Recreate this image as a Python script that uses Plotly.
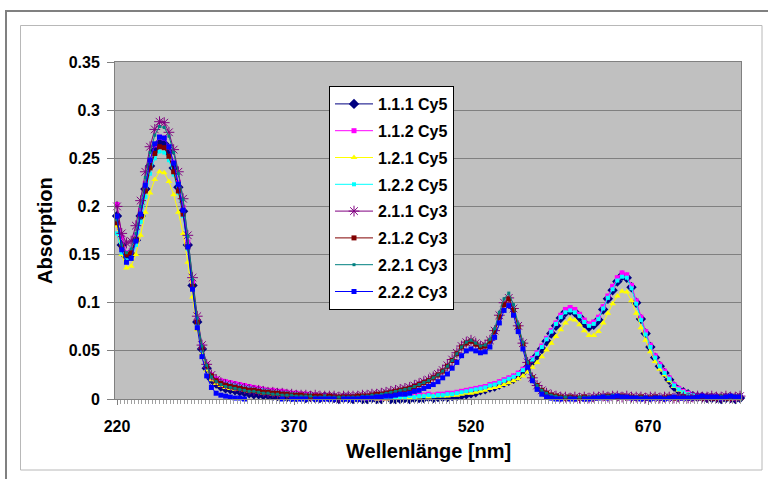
import plotly.graph_objects as go

# Wavelength grid [nm], 4 nm steps
wavelength = list(range(220, 749, 4))

names = ["1.1.1 Cy5", "1.1.2 Cy5", "1.2.1 Cy5", "1.2.2 Cy5",
         "2.1.1 Cy3", "2.1.2 Cy3", "2.2.1 Cy3", "2.2.2 Cy3"]

s111_cy5 = [
    0.190, 0.160, 0.148, 0.150, 0.165, 0.190, 0.218, 0.242, 0.258, 0.266,
    0.265, 0.256, 0.240, 0.220, 0.195, 0.160, 0.118, 0.080, 0.052, 0.032,
    0.021, 0.016, 0.013, 0.011, 0.010, 0.009, 0.008, 0.007, 0.006, 0.005,
    0.005, 0.004, 0.004, 0.003, 0.003, 0.003, 0.002, 0.002, 0.002, 0.002,
    0.001, 0.002, 0.001, 0.001, 0.002, 0.001, 0.001, 0.000, 0.001, 0.001,
    0.000, 0.001, 0.000, 0.000, 0.001, 0.000, 0.000, -0.001, 0.000, 0.000,
    0.000, 0.001, 0.000, 0.001, 0.001, 0.001, 0.002, 0.001, 0.002, 0.002,
    0.002, 0.003, 0.003, 0.004, 0.005, 0.006, 0.007, 0.009, 0.010, 0.012,
    0.013, 0.015, 0.017, 0.019, 0.021, 0.024, 0.028, 0.033, 0.039, 0.045,
    0.052, 0.060, 0.068, 0.076, 0.084, 0.090, 0.092, 0.090, 0.085, 0.079,
    0.075, 0.077, 0.082, 0.093, 0.104, 0.113, 0.122, 0.128, 0.126, 0.116,
    0.100, 0.083, 0.068, 0.054, 0.043, 0.034, 0.027, 0.020, 0.013, 0.009,
    0.007, 0.005, 0.003, 0.002, 0.002, 0.001, 0.001, 0.001, 0.000, 0.001,
    0.001, 0.000, 0.001,
]

s112_cy5 = [
    0.202, 0.168, 0.152, 0.154, 0.170, 0.196, 0.224, 0.248, 0.264, 0.272,
    0.271, 0.262, 0.246, 0.225, 0.199, 0.163, 0.121, 0.083, 0.055, 0.036,
    0.025, 0.021, 0.019, 0.018, 0.017, 0.016, 0.015, 0.014, 0.013, 0.012,
    0.011, 0.010, 0.009, 0.009, 0.008, 0.008, 0.007, 0.006, 0.006, 0.005,
    0.005, 0.004, 0.004, 0.003, 0.003, 0.003, 0.002, 0.002, 0.002, 0.002,
    0.001, 0.002, 0.001, 0.001, 0.002, 0.001, 0.001, 0.001, 0.002, 0.002,
    0.002, 0.003, 0.003, 0.003, 0.004, 0.004, 0.005, 0.004, 0.005, 0.005,
    0.006, 0.006, 0.007, 0.008, 0.009, 0.010, 0.011, 0.012, 0.013, 0.015,
    0.016, 0.018, 0.020, 0.022, 0.024, 0.027, 0.031, 0.036, 0.042, 0.048,
    0.055, 0.063, 0.071, 0.079, 0.087, 0.093, 0.095, 0.093, 0.088, 0.082,
    0.078, 0.080, 0.085, 0.096, 0.107, 0.117, 0.126, 0.131, 0.129, 0.118,
    0.102, 0.085, 0.070, 0.056, 0.045, 0.036, 0.029, 0.022, 0.015, 0.011,
    0.008, 0.006, 0.004, 0.003, 0.003, 0.002, 0.002, 0.002, 0.001, 0.002,
    0.001, 0.001, 0.002,
]

s121_cy5 = [
    0.180, 0.150, 0.136, 0.138, 0.150, 0.170, 0.194, 0.214, 0.228, 0.236,
    0.235, 0.226, 0.212, 0.194, 0.172, 0.142, 0.106, 0.072, 0.047, 0.030,
    0.020, 0.016, 0.014, 0.012, 0.011, 0.010, 0.010, 0.009, 0.008, 0.008,
    0.007, 0.006, 0.006, 0.005, 0.005, 0.004, 0.004, 0.003, 0.003, 0.003,
    0.002, 0.002, 0.002, 0.002, 0.001, 0.002, 0.001, 0.001, 0.001, 0.001,
    0.001, 0.001, 0.000, 0.001, 0.001, 0.000, 0.001, 0.000, 0.001, 0.001,
    0.001, 0.002, 0.001, 0.002, 0.002, 0.003, 0.002, 0.003, 0.003, 0.003,
    0.003, 0.004, 0.004, 0.005, 0.006, 0.006, 0.007, 0.008, 0.009, 0.011,
    0.012, 0.013, 0.015, 0.017, 0.019, 0.021, 0.024, 0.028, 0.033, 0.038,
    0.044, 0.051, 0.058, 0.065, 0.072, 0.079, 0.083, 0.082, 0.077, 0.071,
    0.066, 0.066, 0.070, 0.079, 0.089, 0.099, 0.107, 0.112, 0.111, 0.102,
    0.089, 0.074, 0.061, 0.049, 0.039, 0.031, 0.025, 0.019, 0.013, 0.009,
    0.007, 0.005, 0.003, 0.002, 0.002, 0.001, 0.001, 0.001, 0.001, 0.001,
    0.000, 0.001, 0.001,
]

s122_cy5 = [
    0.172, 0.152, 0.144, 0.146, 0.160, 0.184, 0.210, 0.234, 0.250, 0.257,
    0.256, 0.248, 0.233, 0.214, 0.190, 0.156, 0.115, 0.078, 0.051, 0.033,
    0.023, 0.019, 0.017, 0.016, 0.015, 0.014, 0.013, 0.012, 0.011, 0.010,
    0.009, 0.009, 0.008, 0.007, 0.007, 0.006, 0.006, 0.005, 0.005, 0.004,
    0.004, 0.004, 0.003, 0.003, 0.003, 0.002, 0.002, 0.002, 0.002, 0.001,
    0.002, 0.001, 0.001, 0.002, 0.001, 0.001, 0.001, 0.002, 0.001, 0.002,
    0.002, 0.002, 0.003, 0.002, 0.003, 0.003, 0.004, 0.003, 0.004, 0.004,
    0.005, 0.005, 0.006, 0.007, 0.008, 0.009, 0.010, 0.011, 0.012, 0.014,
    0.015, 0.017, 0.019, 0.021, 0.023, 0.026, 0.030, 0.035, 0.041, 0.047,
    0.054, 0.062, 0.070, 0.078, 0.085, 0.090, 0.092, 0.090, 0.086, 0.080,
    0.076, 0.078, 0.083, 0.094, 0.105, 0.114, 0.123, 0.127, 0.126, 0.115,
    0.099, 0.082, 0.067, 0.054, 0.043, 0.034, 0.027, 0.021, 0.014, 0.010,
    0.007, 0.005, 0.004, 0.003, 0.002, 0.002, 0.001, 0.002, 0.001, 0.001,
    0.001, 0.001, 0.000,
]

s211_cy3 = [
    0.200, 0.172, 0.162, 0.164, 0.180, 0.206, 0.236, 0.262, 0.280, 0.288,
    0.287, 0.277, 0.259, 0.236, 0.208, 0.170, 0.126, 0.086, 0.056, 0.036,
    0.025, 0.020, 0.017, 0.015, 0.014, 0.013, 0.012, 0.011, 0.010, 0.009,
    0.009, 0.008, 0.007, 0.007, 0.006, 0.006, 0.005, 0.005, 0.004, 0.004,
    0.004, 0.003, 0.004, 0.003, 0.003, 0.003, 0.003, 0.002, 0.003, 0.003,
    0.003, 0.003, 0.004, 0.004, 0.005, 0.005, 0.006, 0.007, 0.008, 0.009,
    0.010, 0.011, 0.012, 0.014, 0.016, 0.018, 0.020, 0.023, 0.026, 0.030,
    0.035, 0.041, 0.048, 0.055, 0.059, 0.061, 0.058, 0.055, 0.056, 0.061,
    0.071, 0.087, 0.100, 0.105, 0.094, 0.076, 0.058, 0.038, 0.022, 0.014,
    0.009, 0.006, 0.004, 0.003, 0.002, 0.002, 0.001, 0.002, 0.001, 0.002,
    0.001, 0.002, 0.002, 0.003, 0.002, 0.003, 0.003, 0.002, 0.003, 0.002,
    0.002, 0.002, 0.001, 0.002, 0.002, 0.001, 0.002, 0.002, 0.001, 0.002,
    0.002, 0.001, 0.002, 0.003, 0.002, 0.002, 0.003, 0.002, 0.002, 0.003,
    0.002, 0.002, 0.003,
]

s212_cy3 = [
    0.183, 0.158, 0.150, 0.152, 0.166, 0.190, 0.216, 0.240, 0.255, 0.262,
    0.261, 0.252, 0.236, 0.216, 0.192, 0.158, 0.117, 0.080, 0.053, 0.034,
    0.024, 0.019, 0.016, 0.014, 0.013, 0.012, 0.011, 0.010, 0.009, 0.009,
    0.008, 0.007, 0.007, 0.006, 0.006, 0.005, 0.005, 0.004, 0.004, 0.004,
    0.003, 0.003, 0.003, 0.003, 0.002, 0.003, 0.002, 0.002, 0.002, 0.002,
    0.002, 0.003, 0.003, 0.003, 0.004, 0.005, 0.005, 0.006, 0.007, 0.008,
    0.009, 0.010, 0.011, 0.013, 0.015, 0.017, 0.019, 0.022, 0.025, 0.029,
    0.034, 0.040, 0.047, 0.054, 0.058, 0.060, 0.057, 0.054, 0.055, 0.060,
    0.070, 0.085, 0.098, 0.104, 0.092, 0.075, 0.057, 0.037, 0.022, 0.014,
    0.009, 0.006, 0.004, 0.003, 0.002, 0.001, 0.002, 0.001, 0.001, 0.002,
    0.001, 0.001, 0.002, 0.002, 0.003, 0.002, 0.002, 0.003, 0.002, 0.002,
    0.001, 0.002, 0.001, 0.001, 0.002, 0.001, 0.001, 0.002, 0.001, 0.001,
    0.002, 0.001, 0.001, 0.002, 0.001, 0.002, 0.001, 0.001, 0.002, 0.001,
    0.001, 0.002, 0.001,
]

s221_cy3 = [
    0.186, 0.160, 0.152, 0.156, 0.172, 0.200, 0.230, 0.256, 0.274, 0.283,
    0.282, 0.273, 0.256, 0.234, 0.207, 0.169, 0.124, 0.084, 0.055, 0.035,
    0.023, 0.018, 0.015, 0.013, 0.012, 0.011, 0.010, 0.009, 0.008, 0.008,
    0.007, 0.006, 0.006, 0.005, 0.005, 0.004, 0.004, 0.004, 0.003, 0.003,
    0.003, 0.003, 0.002, 0.002, 0.003, 0.002, 0.002, 0.002, 0.002, 0.002,
    0.002, 0.002, 0.003, 0.003, 0.004, 0.004, 0.005, 0.006, 0.007, 0.008,
    0.009, 0.010, 0.011, 0.013, 0.015, 0.017, 0.019, 0.022, 0.025, 0.029,
    0.034, 0.040, 0.047, 0.054, 0.059, 0.061, 0.058, 0.055, 0.056, 0.062,
    0.073, 0.090, 0.104, 0.110, 0.098, 0.078, 0.059, 0.038, 0.022, 0.014,
    0.009, 0.006, 0.004, 0.003, 0.002, 0.002, 0.002, 0.001, 0.002, 0.002,
    0.002, 0.002, 0.003, 0.003, 0.003, 0.004, 0.003, 0.003, 0.002, 0.002,
    0.002, 0.002, 0.002, 0.001, 0.002, 0.002, 0.001, 0.002, 0.002, 0.001,
    0.002, 0.002, 0.001, 0.002, 0.003, 0.002, 0.002, 0.002, 0.003, 0.002,
    0.002, 0.003, 0.002,
]

s222_cy3 = [
    0.190, 0.155, 0.142, 0.146, 0.164, 0.192, 0.222, 0.248, 0.265, 0.272,
    0.271, 0.262, 0.245, 0.223, 0.196, 0.158, 0.114, 0.074, 0.044, 0.024,
    0.012, 0.006, 0.004, 0.003, 0.002, 0.001, 0.001, 0.000, -0.001, -0.002,
    -0.002, -0.003, -0.002, -0.001, -0.001, 0.000, -0.001, 0.000, 0.000, 0.000,
    0.000, -0.001, 0.000, 0.000, 0.000, 0.000, 0.000, -0.001, 0.000, 0.000,
    0.000, 0.000, 0.001, 0.001, 0.001, 0.002, 0.002, 0.003, 0.003, 0.004,
    0.005, 0.005, 0.006, 0.008, 0.009, 0.011, 0.013, 0.015, 0.018, 0.022,
    0.026, 0.032, 0.038, 0.045, 0.050, 0.052, 0.050, 0.048, 0.049, 0.054,
    0.064, 0.079, 0.092, 0.097, 0.087, 0.070, 0.052, 0.033, 0.019, 0.010,
    0.005, 0.002, 0.001, 0.000, 0.000, -0.001, 0.000, 0.000, -0.001, 0.000,
    0.000, 0.001, 0.001, 0.002, 0.001, 0.002, 0.003, 0.002, 0.002, 0.001,
    0.001, 0.000, 0.001, 0.000, 0.001, 0.001, 0.000, 0.001, 0.002, 0.001,
    0.001, 0.001, 0.001, 0.002, 0.003, 0.002, 0.002, 0.002, 0.001, 0.002,
    0.003, 0.002, 0.002,
]

series = [s111_cy5, s112_cy5, s121_cy5, s122_cy5,
          s211_cy3, s212_cy3, s221_cy3, s222_cy3]

y_ticks = [0, 0.05, 0.1, 0.15, 0.2, 0.25, 0.3, 0.35]
x_ticks = [220, 370, 520, 670]

# Classic spreadsheet palette and marker set, one entry per series
styles = [
    dict(color="#000080", symbol="diamond", size=8, lw=0),
    dict(color="#FF00FF", symbol="square", size=5, lw=0),
    dict(color="#FFFF00", symbol="triangle-up", size=6, lw=0),
    dict(color="#00FFFF", symbol="square", size=4, lw=0),
    dict(color="#800080", symbol="asterisk-open", size=9, lw=1),
    dict(color="#800000", symbol="square", size=5, lw=0),
    dict(color="#008080", symbol="square", size=3, lw=0),
    dict(color="#0000FF", symbol="square", size=5, lw=0),
]

fig = go.Figure()
for i, (name, vals, st) in enumerate(zip(names, series, styles)):
    fig.add_trace(go.Scatter(
        x=wavelength[:len(vals)], y=vals, name=name, mode="lines+markers",
        legendgroup=f"g{i}",
        line=dict(color=st["color"], width=1),
        marker=dict(symbol=st["symbol"], size=st["size"], color=st["color"],
                    line=dict(color=st["color"], width=st["lw"])),
        cliponaxis=False,
    ))

L, R, T, B = 115, 741, 62, 399
W, H = 768, 479
pw, ph = R - L, B - T


def px(x):
    return (x - L) / pw


def py(y):
    return (B - y) / ph


font = "Arial, Liberation Sans, sans-serif"

fig.update_layout(
    width=W, height=H,
    margin=dict(l=L, r=W - R, t=T, b=H - B, pad=0),
    paper_bgcolor="white",
    plot_bgcolor="#C0C0C0",
    font=dict(family=font, color="black"),
    showlegend=True,
    legend=dict(
        x=px(329), y=py(86), xanchor="left", yanchor="top",
        bgcolor="white", bordercolor="black", borderwidth=1,
        font=dict(family=font, size=16, weight="bold"),
        tracegroupgap=3, itemwidth=38,
    ),
    xaxis=dict(
        range=[218.3, 748.8], tickmode="array", tickvals=x_ticks,
        showgrid=False, zeroline=False,
        showline=True, linecolor="#808080", linewidth=1, mirror=True,
        ticks="outside", ticklen=5, tickcolor="#808080",
        ticklabelstandoff=8,
        tickfont=dict(family=font, size=16, weight="bold"),
        minor=dict(ticks="outside", ticklen=4, tickcolor="#A0A0A0",
                   tick0=220, dtick=3, showgrid=False),
    ),
    yaxis=dict(
        range=[0, 0.35], tickmode="array", tickvals=y_ticks,
        ticktext=[f"{v:g}" for v in y_ticks],
        showgrid=True, gridcolor="#808080", gridwidth=1, zeroline=False,
        showline=True, linecolor="#808080", linewidth=1, mirror=True,
        ticks="outside", ticklen=7, tickcolor="#808080",
        ticklabelstandoff=4,
        tickfont=dict(family=font, size=16, weight="bold"),
    ),
    annotations=[
        dict(text="Absorption", xref="paper", yref="paper",
             x=px(45), y=py(231), showarrow=False, textangle=-90,
             font=dict(family=font, size=20, weight="bold"),
             xanchor="center", yanchor="middle"),
        dict(text="Wellenlänge [nm]", xref="paper", yref="paper",
             x=px(428), y=py(451), showarrow=False,
             font=dict(family=font, size=20, weight="bold"),
             xanchor="center", yanchor="middle"),
    ],
    shapes=[
        # outer chart frame
        dict(type="rect", xref="paper", yref="paper",
             x0=px(6), x1=px(775), y0=py(485), y1=py(11),
             line=dict(color="#808080", width=2), fillcolor="rgba(0,0,0,0)",
             layer="below"),
        # inner chart-area border
        dict(type="rect", xref="paper", yref="paper",
             x0=px(20.5), x1=px(762), y0=py(470), y1=py(25.5),
             line=dict(color="#B8B8B8", width=1), fillcolor="rgba(0,0,0,0)",
             layer="below"),
    ],
)

fig.write_html("out.html")
